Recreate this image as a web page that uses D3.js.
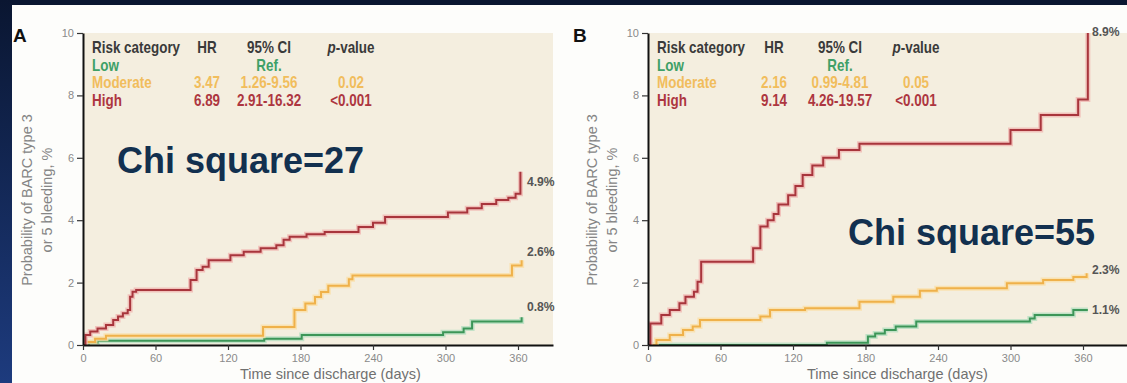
<!DOCTYPE html>
<html>
<head>
<meta charset="utf-8">
<script src="https://cdn.jsdelivr.net/npm/d3@7"></script>
<style>
    html, body { margin: 0; padding: 0; background: #fdfdfb; }
    svg { display: block; }
</style>
</head>
<body>
<div id="chart"></div>
<script>
// ---- data ----
const dayTicks = [0, 60, 120, 180, 240, 300, 360];
const pctTicks = [0, 2, 4, 6, 8, 10];

const tableHeader = ["Risk category", "HR", "95% CI", "p-value"];
const riskCategories = ["Low", "Moderate", "High"];

const hrA = ["", "3.47", "6.89"];
const ciA = ["Ref.", "1.26-9.56", "2.91-16.32"];
const pA = ["", "0.02", "<0.001"];

const hrB = ["", "2.16", "9.14"];
const ciB = ["Ref.", "0.99-4.81", "4.26-19.57"];
const pB = ["", "0.05", "<0.001"];

const chiA = "Chi square=27";
const chiB = "Chi square=55";

const endLabelsA = ["0.8%", "2.6%", "4.9%"];
const endLabelsB = ["1.1%", "2.3%", "8.9%"];

// [day, cumulative %] step points
const lowA = [[0, 0], [5, 0.07], [12, 0.14], [150, 0.2], [181, 0.32], [298, 0.41], [315, 0.53], [322, 0.75], [363, 0.89]];
const moderateA = [[0, 0], [2, 0.1], [10, 0.2], [19, 0.3], [149, 0.58], [175, 1.12], [184, 1.33], [192, 1.54], [197, 1.7],
    [203, 1.9], [220, 2.11], [223, 2.23], [355, 2.55], [363, 2.72]];
const highA = [[0, 0], [2, 0.32], [6, 0.43], [12, 0.53], [19, 0.64], [25, 0.8], [29, 0.91], [33, 1.02], [37, 1.12],
    [39, 1.55], [41, 1.71], [44, 1.76], [89, 2.08], [94, 2.4], [99, 2.51], [104, 2.72], [122, 2.88], [133, 2.99],
    [147, 3.1], [160, 3.2], [166, 3.37], [171, 3.47], [185, 3.55], [200, 3.62], [228, 3.78], [240, 3.92], [250, 4.1],
    [302, 4.25], [318, 4.38], [330, 4.52], [342, 4.65], [352, 4.72], [358, 4.85], [362, 5.55]];

const lowB = [[0, 0], [148, 0.07], [182, 0.27], [188, 0.37], [196, 0.48], [205, 0.59], [222, 0.75], [316, 0.85],
    [320, 0.96], [352, 1.12], [364, 1.12]];
const moderateB = [[0, 0], [7, 0.16], [18, 0.32], [29, 0.48], [37, 0.59], [43, 0.8], [93, 0.91], [101, 1.12],
    [130, 1.18], [175, 1.39], [203, 1.55], [225, 1.74], [239, 1.82], [297, 1.98], [327, 2.08], [352, 2.18], [363, 2.3]];
const highB = [[0, 0], [2, 0.69], [11, 0.96], [18, 1.12], [26, 1.34], [31, 1.55], [38, 1.71], [41, 2.03], [44, 2.67],
    [87, 3.1], [93, 3.8], [99, 4.0], [104, 4.2], [108, 4.5], [116, 4.8], [122, 5.1], [128, 5.45], [136, 5.75],
    [145, 6.0], [158, 6.25], [175, 6.45], [300, 6.89], [325, 7.37], [356, 7.87], [364, 10]];

// ---- layout / style ----
const width = 1127;
const height = 383;

const riskColors = {
    Low: { line: "#3c9658", halo: "#b5dfc0", text: "#3fa067" },
    Moderate: { line: "#efb14a", halo: "#fadfa6", text: "#f1bd5c" },
    High: { line: "#a8353c", halo: "#f0b7b2", text: "#ad3640" },
};

const panels = [
    {
        letter: "A", axisX: 83, right: 553, letterX: 13,
        series: [lowA, moderateA, highA], labels: endLabelsA, labelDy: [-6, -4, 14],
        hr: hrA, ci: ciA, p: pA, cols: [9, 124, 186, 268],
        chi: chiA, chiX: 117, chiY: 173,
        xLabelX: 240,
    },
    {
        letter: "B", axisX: 648, right: 1127, letterX: 573,
        series: [lowB, moderateB, highB], labels: endLabelsB, labelDy: [4, 1, 3],
        hr: hrB, ci: ciB, p: pB, cols: [9, 126, 192, 268],
        chi: chiB, chiX: 848, chiY: 245,
        xLabelX: 807,
    },
];

const plotTop = 33;
const plotBottom = 345;
const pxPerDay = 435 / 360;

const svg = d3
    .select("#chart")
    .append("svg")
    .attr("width", width)
    .attr("height", height)
    .attr("viewBox", [0, 0, width, height]);

// backdrop: slide background strips + white page
const defs = svg.append("defs");
const grad = defs.append("linearGradient")
    .attr("id", "sideGrad").attr("x1", 0).attr("y1", 0).attr("x2", 0).attr("y2", 1);
grad.append("stop").attr("offset", "0%").attr("stop-color", "#0a1631");
grad.append("stop").attr("offset", "100%").attr("stop-color", "#1d3b7e");

svg.append("rect").attr("width", width).attr("height", height).attr("fill", "#fdfdfb");
svg.append("rect").attr("width", width).attr("height", 5).attr("fill", "#0a1631");
svg.append("rect").attr("width", 12).attr("height", height).attr("fill", "url(#sideGrad)");

const condensed = "'Liberation Sans', Arial, sans-serif";

panels.forEach((panel) => _drawPanel(panel));

//============================ INTERNAL FUNCTIONS ============================//
function _drawPanel(panel) {
    let x = d3
        .scaleLinear()
        .domain([0, (panel.right - panel.axisX) / pxPerDay])
        .range([panel.axisX, panel.right]);
    let y = d3.scaleLinear().domain([0, 10]).range([plotBottom, plotTop]);

    let g = svg.append("g").attr("class", "panel-" + panel.letter);

    //beige plot area
    g.append("rect")
        .attr("x", panel.axisX)
        .attr("y", plotTop)
        .attr("width", panel.right - panel.axisX)
        .attr("height", plotBottom - plotTop)
        .attr("fill", "#f4eedf");

    //panel letter
    g.append("text")
        .attr("x", panel.letterX)
        .attr("y", 42)
        .attr("font-family", condensed)
        .attr("font-weight", "bold")
        .attr("font-size", 19)
        .attr("fill", "#111")
        .text(panel.letter);

    //curves, clipped to plot area
    let clipId = "clip-" + panel.letter;
    defs.append("clipPath").attr("id", clipId)
        .append("rect")
        .attr("x", panel.axisX)
        .attr("y", plotTop)
        .attr("width", panel.right - panel.axisX)
        .attr("height", plotBottom - plotTop);

    let line = d3
        .line()
        .x((d) => x(d[0]))
        .y((d) => y(d[1]))
        .curve(d3.curveStepAfter);

    let curves = g.append("g").attr("clip-path", `url(#${clipId})`);
    panel.series.forEach((data, k) => {
        let c = riskColors[riskCategories[k]];
        curves.append("path")
            .attr("d", line(data))
            .attr("fill", "none")
            .attr("stroke", c.halo)
            .attr("stroke-width", 5)
            .attr("stroke-opacity", 0.8);
        curves.append("path")
            .attr("d", line(data))
            .attr("fill", "none")
            .attr("stroke", c.line)
            .attr("stroke-width", 2);
    });

    //end labels
    panel.series.forEach((data, k) => {
        let last = data[data.length - 1];
        g.append("text")
            .attr("transform", `translate(${panel.axisX + 444},${y(last[1]) + panel.labelDy[k]}) scale(0.9,1)`)
            .attr("font-family", condensed)
            .attr("font-weight", "bold")
            .attr("font-size", 13.5)
            .attr("fill", "#555")
            .text(panel.labels[k]);
    });

    //axes
    let yAxis = d3.axisLeft(y).tickValues(pctTicks).tickSize(6).tickSizeOuter(0).tickPadding(3);
    let xAxis = d3.axisBottom(x).tickValues(dayTicks).tickSize(5).tickSizeOuter(0).tickPadding(4);

    let ya = g.append("g").attr("transform", `translate(${panel.axisX},0)`).call(yAxis);
    let xa = g.append("g").attr("transform", `translate(0,${plotBottom})`).call(xAxis);

    [ya, xa].forEach((a) => {
        a.select(".domain").attr("stroke", "#111").attr("stroke-width", 2);
        a.selectAll(".tick line").attr("stroke", "#333").attr("stroke-width", 1.2);
        a.selectAll(".tick text")
            .attr("font-family", condensed)
            .attr("font-size", 11)
            .attr("fill", "#8a8a8a");
    });

    //axis titles
    let yTitle = ["Probability of BARC type 3", "or 5 bleeding, %"];
    yTitle.forEach((t, k) => {
        g.append("text")
            .attr("transform", `translate(${panel.axisX - 51 + k * 20},200) rotate(-90)`)
            .attr("text-anchor", "middle")
            .attr("font-family", condensed)
            .attr("font-size", 14.5)
            .attr("fill", "#858585")
            .text(t);
    });

    g.append("text")
        .attr("x", panel.xLabelX)
        .attr("y", 379)
        .attr("font-family", condensed)
        .attr("font-size", 14.5)
        .attr("fill", "#707070")
        .text("Time since discharge (days)");

    //hazard ratio table
    _drawTable(g, panel);

    //chi square annotation
    g.append("text")
        .attr("x", panel.chiX)
        .attr("y", panel.chiY)
        .attr("font-family", "'Liberation Sans', Arial, sans-serif")
        .attr("font-weight", "bold")
        .attr("font-size", 36)
        .attr("fill", "#12304f")
        .text(panel.chi);
}

function _drawTable(g, panel) {
    let rowY = [53, 71, 88, 106];
    let anchors = ["start", "middle", "middle", "middle"];
    let cols = panel.cols.map((c) => panel.axisX + c);

    let rows = [tableHeader].concat(
        riskCategories.map((r, k) => [r, panel.hr[k], panel.ci[k], panel.p[k]])
    );

    rows.forEach((row, r) => {
        let color = r === 0 ? "#3a3a3a" : riskColors[riskCategories[r - 1]].text;
        row.forEach((cell, c) => {
            if (!cell) return;
            let t = g.append("text")
                .attr("transform", `translate(${cols[c]},${rowY[r]}) scale(0.84,1)`)
                .attr("text-anchor", anchors[c])
                .attr("font-family", condensed)
                .attr("font-weight", "bold")
                .attr("font-size", 16)
                .attr("fill", color)
                .text(cell);
            if (r === 0 && c === 3) {
                //italic p in the header
                t.text(null);
                t.append("tspan").attr("font-style", "italic").text("p");
                t.append("tspan").text("-value");
            }
        });
    });
}
</script>
</body>
</html>
